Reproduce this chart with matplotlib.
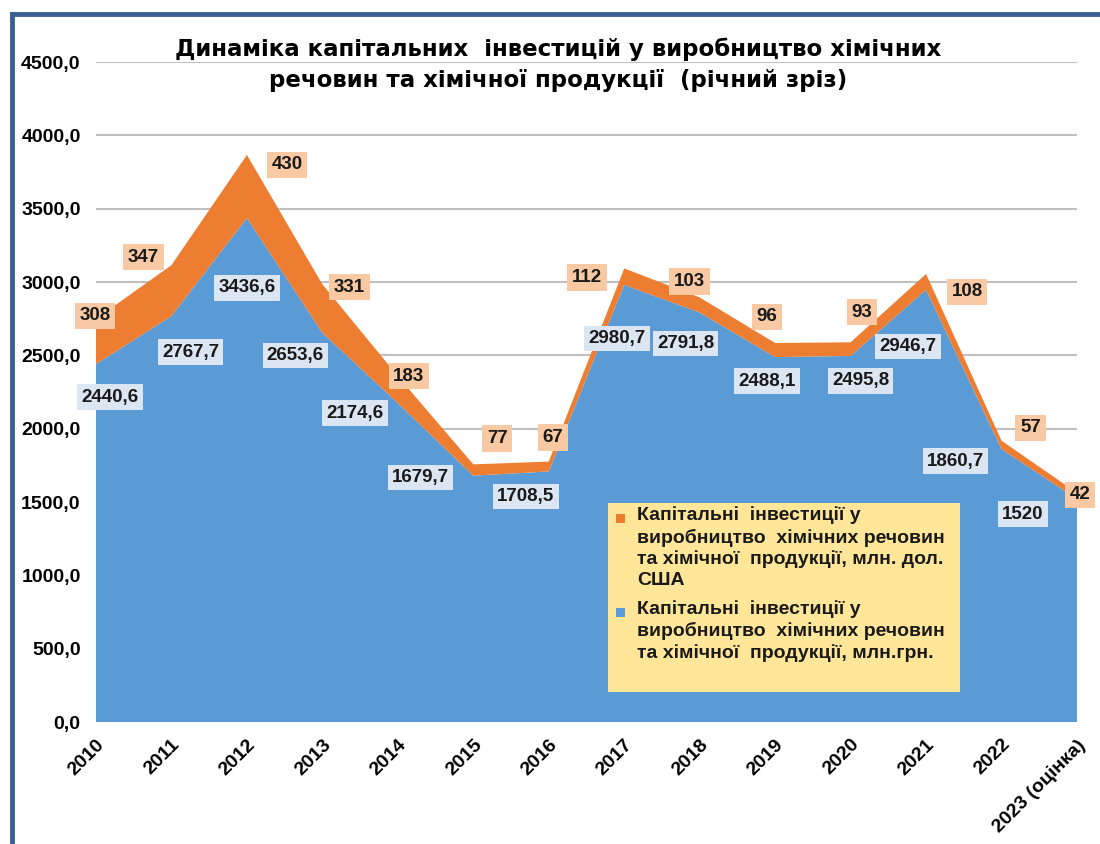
import matplotlib
matplotlib.use("Agg")
import matplotlib.pyplot as plt
from matplotlib.patches import Rectangle
from matplotlib.lines import Line2D

years = ["2010", "2011", "2012", "2013", "2014", "2015", "2016",
         "2017", "2018", "2019", "2020", "2021", "2022", "2023 (оцінка)"]
uah = [2440.6, 2767.7, 3436.6, 2653.6, 2174.6, 1679.7, 1708.5,
       2980.7, 2791.8, 2488.1, 2495.8, 2946.7, 1860.7, 1520]
usd = [308, 347, 430, 331, 183, 77, 67, 112, 103, 96, 93, 108, 57, 42]
uah_labels = ["2440,6", "2767,7", "3436,6", "2653,6", "2174,6", "1679,7", "1708,5",
              "2980,7", "2791,8", "2488,1", "2495,8", "2946,7", "1860,7", "1520"]
legend_labels = [
    "Капітальні  інвестиції у\nвиробництво  хімічних речовин\nта хімічної  продукції, млн. дол.\nСША",
    "Капітальні  інвестиції у\nвиробництво  хімічних речовин\nта хімічної  продукції, млн.грн.",
]

# зміщення підписів у пікселях (вниз = від'ємне)
uah_off = [(14, -33), (19, -36), (0, -70), (-27, -23), (-43, -10), (-53, -2), (-23, -25),
           (-7, -54), (-14, -31), (-8, -24), (10, -25), (-18, -57), (-46, -12), (-54, -15)]
usd_off = [(-1, 3), (-28, 8), (40, -10), (27, -3), (11, 0), (24, 26), (4, 24),
           (-37, -9), (-10, 16), (-8, 26), (11, 30), (41, -18), (29, 13), (3, -2)]

BLUE = "#5B9BD5"
ORANGE = "#ED7D31"
FONT = ["Liberation Sans", "DejaVu Sans"]

plt.rcParams["font.family"] = FONT
plt.rcParams["font.weight"] = "bold"

fig = plt.figure(figsize=(11, 8.44), dpi=100, facecolor="white")
ax = fig.add_axes([96 / 1100, 1 - 722 / 844, 981 / 1100, 660 / 844])

x = list(range(len(years)))
ax.stackplot(x, uah, usd, colors=[BLUE, ORANGE], linewidth=0)

ax.set_xlim(0, len(years) - 1)
ax.set_ylim(0, 4500)
ax.set_yticks(range(0, 4501, 500))
ax.set_yticklabels([f"{v},0" for v in range(0, 4501, 500)], fontsize=14, fontweight="bold")
ax.set_xticks(x)
ax.set_xticklabels(years, rotation=45, ha="right", rotation_mode="anchor",
                   fontsize=14, fontweight="bold")
ax.tick_params(axis="both", length=0)
ax.tick_params(axis="y", pad=11)
ax.tick_params(axis="x", pad=10)
ax.grid(axis="y", color="#BFBFBF", linewidth=1.5)
ax.set_axisbelow(True)
for s in ax.spines.values():
    s.set_visible(False)

# підписи даних
for i in x:
    ax.annotate(uah_labels[i], (i, uah[i]), xytext=uah_off[i], textcoords="offset pixels",
                ha="center", va="center", fontsize=13.5, fontweight="bold", color="#1a1a1a",
                bbox=dict(boxstyle="square,pad=0.22", fc="#DCE6F2", ec="none"), zorder=5)
    top = uah[i] + usd[i]
    ax.annotate(str(usd[i]), (i, top), xytext=usd_off[i], textcoords="offset pixels",
                ha="center", va="center", fontsize=13.5, fontweight="bold", color="#1a1a1a",
                bbox=dict(boxstyle="square,pad=0.25", fc="#F9C9A3", ec="none"), zorder=5)

# легенда вручну (маркер біля першого рядка)
ax.add_patch(Rectangle((0.522, 0.0455), 0.359, 0.287, transform=ax.transAxes,
                       facecolor="#FFE699", edgecolor="none", zorder=4))
for lab, col, ytop in zip(legend_labels, [ORANGE, BLUE], [0.3265, 0.1845]):
    ax.add_patch(Rectangle((0.530, ytop - 0.0255), 0.0092, 0.0135, transform=ax.transAxes,
                           facecolor=col, edgecolor="none", zorder=5))
    ax.text(0.5515, ytop, lab, transform=ax.transAxes, ha="left", va="top",
            fontsize=14, fontweight="bold", color="#1a1a1a", linespacing=1.3, zorder=5)

fig.text(0.507, 0.923, "Динаміка капітальних  інвестицій у виробництво хімічних\n"
         "речовин та хімічної продукції  (річний зріз)",
         ha="center", va="center", fontsize=16.5, fontweight="bold",
         family=["DejaVu Sans"], linespacing=1.45)

# рамка
fig.add_artist(Line2D([12 / 1100, 1], [1 - 14 / 844, 1 - 14 / 844], color="#3A5F93", linewidth=3.5))
fig.add_artist(Line2D([12 / 1100, 12 / 1100], [0, 1 - 14 / 844], color="#3A5F93", linewidth=3.5))

fig.savefig("out.png", dpi=100, facecolor="white")
